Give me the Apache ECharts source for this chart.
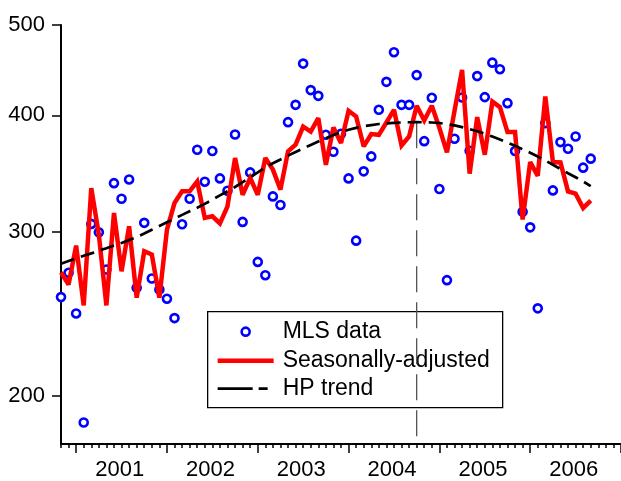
<!DOCTYPE html>
<html><head><meta charset="utf-8">
<script src="https://cdn.jsdelivr.net/npm/echarts@6/dist/echarts.min.js"></script>
<style>html,body{margin:0;padding:0;background:#fff}#c{width:621px;height:481px}</style>
</head><body><div id="c"></div>
<script>
// Monthly observations: Nov 2000 .. Sep 2006
const startYear = 2000, startMonth = 11, monthCount = 71;
const months = [];
for (let i = 0; i < monthCount; i++) {
  const t = (startYear * 12 + startMonth - 1) + i;
  months.push(Math.floor(t / 12) + '-' + String(t % 12 + 1).padStart(2, '0'));
}
const mlsData = [
  255.3, 271.1,
  245.2, 187.3, 305.9, 299.6, 273.3, 338.3, 325.5, 341.4, 261.3, 306.7, 267.3, 260.2,
  254.3, 242.4, 305.6, 325.5, 367.4, 339.5, 366.2, 342.3, 332.0, 381.5, 307.4, 347.4,
  278.5, 269.5, 327.4, 320.5, 393.3, 410.5, 454.5, 425.7, 419.7, 381.2, 365.6, 382.2,
  342.3, 293.5, 348.3, 361.4, 405.5, 434.5, 467.5, 410.5, 410.5, 441.8, 375.3, 417.7,
  333.4, 266.2, 377.5, 418.0, 366.5, 440.7, 418.4, 455.6, 448.3, 412.2, 366.2, 315.3,
  303.3, 248.3, 392.4, 332.3, 374.4, 368.3, 379.6, 351.5, 359.4
];
const seasAdj = [
  271.3, 263.4,
  289.9, 250.1, 334.2, 297.9, 250.1, 314.3, 272.1, 304.1, 254.9, 285.9, 283.6, 254.9,
  301.6, 322.1, 331.5, 331.5, 339.7, 310.5, 311.7, 306.2, 319.4, 360.0, 328.7, 342.6,
  328.7, 360.0, 349.8, 332.9, 365.9, 372.0, 389.1, 384.3, 397.2, 354.0, 388.1, 373.5,
  404.5, 398.8, 370.4, 381.9, 381.2, 393.0, 405.5, 371.3, 379.6, 409.5, 395.0, 409.5,
  387.8, 365.0, 404.5, 447.5, 346.3, 398.2, 362.9, 413.8, 408.2, 383.8, 383.8, 309.2,
  356.4, 344.5, 419.0, 356.4, 356.0, 331.5, 329.6, 318.2, 324.0
];
const hpTrend = [
  277.2, 279.1,
  280.9, 282.7, 284.4, 286.3, 288.1, 290.0, 291.8, 293.9, 296.0, 298.7, 301.5, 304.3,
  307.1, 309.9, 312.8, 315.6, 318.4, 321.4, 324.8, 328.2, 331.6, 335.1, 339.1, 343.2,
  347.5, 351.7, 355.3, 358.6, 362.1, 365.4, 368.6, 371.8, 374.9, 378.0, 381.0, 383.8,
  386.0, 387.8, 389.3, 390.5, 391.5, 392.2, 392.6, 393.0, 393.2, 393.3, 393.2, 393.0,
  392.5, 391.4, 390.2, 388.5, 386.6, 384.5, 382.2, 379.6, 376.8, 374.0, 371.0, 367.8,
  364.7, 361.3, 357.7, 354.0, 350.3, 346.7, 343.3, 339.7, 335.8
];
const yTicks = [200, 300, 400, 500];
const yearLabels = ['2001', '2002', '2003', '2004', '2005', '2006'];
const peakMonth = '2004-10';
const legendNames = ['MLS data', 'Seasonally-adjusted', 'HP trend'];

// helpers: month string -> months since Jan 2001
const mIdx = s => { const [y, m] = s.split('-').map(Number); return (y - 2001) * 12 + (m - 1); };
const xMin = mIdx(months[0]);
const xMax = 72; // Jan 2007
const yMin = 177.6, yMax = 500;
const majorTicks = [], minorTicks = [];
for (let v = 0; v <= xMax; v += 12) majorTicks.push(v);
for (let v = xMin; v <= xMax; v++) minorTicks.push(v);
const labelPos = yearLabels.map((y, i) => i * 12 + 5.75);

const pts = arr => months.map((mo, i) => [mIdx(mo), arr[i]]);
const peakX = mIdx(peakMonth);
const peakVal = hpTrend[months.indexOf(peakMonth)];

const FONT = 'Liberation Sans, Arial, sans-serif';
const chart = echarts.init(document.getElementById('c'), null, {renderer: 'canvas'});
chart.setOption({
  animation: false,
  backgroundColor: '#fff',
  grid: {left: 61, right: 0, top: 25, bottom: 36, containLabel: false},
  xAxis: [{
    type: 'value', min: xMin, max: xMax, position: 'bottom',
    axisLine: {onZero: false, lineStyle: {color: '#000', width: 2}},
    axisTick: {customValues: majorTicks, length: 9, lineStyle: {color: '#000', width: 1.5}},
    axisLabel: {customValues: labelPos, color: '#000', fontSize: 22, fontFamily: FONT, margin: 15,
      formatter: v => yearLabels[Math.round((v - 5.75) / 12)]},
    splitLine: {show: false}
  }, {
    type: 'value', min: xMin, max: xMax, position: 'bottom',
    axisLine: {show: false, onZero: false},
    axisTick: {customValues: minorTicks, length: 4, lineStyle: {color: '#000', width: 1.5}},
    axisLabel: {show: false},
    splitLine: {show: false}
  }],
  yAxis: {
    type: 'log', logBase: 10, min: yMin, max: yMax,
    axisLine: {show: true, onZero: false, lineStyle: {color: '#000', width: 2}},
    axisTick: {show: true, customValues: yTicks, length: 9, lineStyle: {color: '#000', width: 1.5}},
    axisLabel: {customValues: yTicks, color: '#000', fontSize: 22, fontFamily: FONT, margin: 16},
    splitLine: {show: false},
    minorTick: {show: false}
  },
  series: [
    {
      name: 'peak', type: 'line', xAxisIndex: 0, z: 1, symbol: 'none', silent: true,
      data: [[peakX, peakVal], [peakX, yMin]],
      lineStyle: {color: '#555', width: 1.3, type: [26, 10]}
    },
    {
      name: legendNames[0], type: 'scatter', xAxisIndex: 0, z: 2,
      data: pts(mlsData), symbol: 'circle', symbolSize: 8,
      itemStyle: {color: '#ffffff', borderColor: '#0000ff', borderWidth: 2.6, opacity: 1}
    },
    {
      name: legendNames[1], type: 'line', xAxisIndex: 0, z: 3, showSymbol: false, symbol: 'none',
      data: pts(seasAdj), lineStyle: {color: '#ff0000', width: 4.5, join: 'miter', miterLimit: 2.5}
    },
    {
      name: legendNames[2], type: 'line', xAxisIndex: 0, z: 4, showSymbol: false, symbol: 'none', smooth: false,
      data: pts(hpTrend), lineStyle: {color: '#000', width: 2.7, type: [14, 7]}
    }
  ],
  graphic: [{
    type: 'group', left: 207, top: 311, z: 100,
    children: [
      {type: 'rect', shape: {x: 0, y: 0, width: 295, height: 96}, style: {fill: '#fff', stroke: '#000', lineWidth: 1.3}},
      {type: 'circle', shape: {cx: 38, cy: 20, r: 4}, style: {fill: '#fff', stroke: '#0000ff', lineWidth: 2.6}},
      {type: 'line', shape: {x1: 10, y1: 49, x2: 66, y2: 49}, style: {stroke: '#ff0000', lineWidth: 4.5}},
      {type: 'line', shape: {x1: 10, y1: 77, x2: 60, y2: 77}, style: {stroke: '#000', lineWidth: 2.7, lineDash: [35, 6]}},
      {type: 'text', x: 75, y: 20, style: {text: legendNames[0], fill: '#000', font: '23px ' + FONT, textVerticalAlign: 'middle'}},
      {type: 'text', x: 75, y: 49, style: {text: legendNames[1], fill: '#000', font: '23px ' + FONT, textVerticalAlign: 'middle'}},
      {type: 'text', x: 75, y: 77, style: {text: legendNames[2], fill: '#000', font: '23px ' + FONT, textVerticalAlign: 'middle'}}
    ]
  }]
});
</script></body></html>
